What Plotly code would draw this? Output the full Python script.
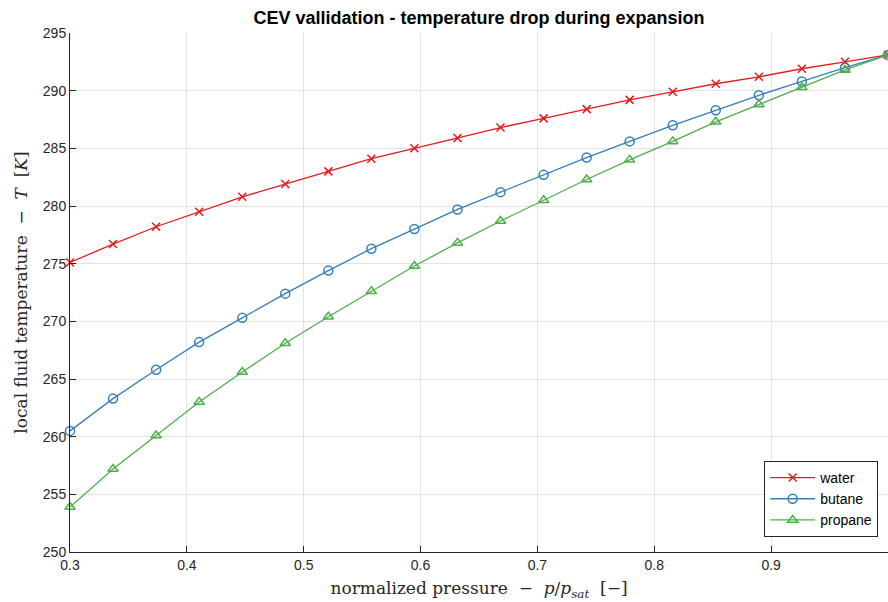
import plotly.graph_objects as go

x_vals = [0.3, 0.3368, 0.3737, 0.4105, 0.4474, 0.4842, 0.5211, 0.5579, 0.5947, 0.6316,
          0.6684, 0.7053, 0.7421, 0.7789, 0.8158, 0.8526, 0.8895, 0.9263, 0.9632, 1.0]
water = [275.1, 276.7, 278.2, 279.5, 280.8, 281.9, 283.0, 284.1, 285.0, 285.9,
         286.8, 287.6, 288.4, 289.2, 289.9, 290.6, 291.2, 291.9, 292.5, 293.1]
butane = [260.5, 263.3, 265.8, 268.2, 270.3, 272.4, 274.4, 276.3, 278.0, 279.7,
          281.2, 282.7, 284.2, 285.6, 287.0, 288.3, 289.6, 290.8, 292.0, 293.1]
propane = [253.9, 257.2, 260.1, 263.0, 265.6, 268.1, 270.4, 272.6, 274.8, 276.8,
           278.7, 280.5, 282.3, 284.0, 285.6, 287.3, 288.8, 290.3, 291.8, 293.1]
x_ticks = [0.3, 0.4, 0.5, 0.6, 0.7, 0.8, 0.9]
x_ticklabels = ["0.3", "0.4", "0.5", "0.6", "0.7", "0.8", "0.9"]
y_ticks = [250, 255, 260, 265, 270, 275, 280, 285, 290, 295]

fig = go.Figure()
series = [("water", water, "#e41a1c", "x-thin-open"),
          ("butane", butane, "#377eb8", "circle-open"),
          ("propane", propane, "#4daf4a", "triangle-up-open")]
for name, ys, col, sym in series:
    fig.add_trace(go.Scatter(
        x=x_vals, y=ys, name=name, mode="lines+markers",
        line=dict(color=col, width=1.3),
        marker=dict(symbol=sym, size=9 if sym != "x-thin-open" else 8,
                    color=col, line=dict(color=col, width=1.5)),
        cliponaxis=False,
    ))

fig.update_layout(
    width=888, height=602,
    margin=dict(l=70, r=0, t=33, b=50),
    paper_bgcolor="white", plot_bgcolor="white",
    font=dict(family="Liberation Sans, Arial, sans-serif", size=14, color="#262626"),
    title=dict(text="<b>CEV vallidation - temperature drop during expansion</b>",
               x=0.5, xref="paper", y=0.97, yanchor="middle",
               font=dict(size=18, color="black")),
    showlegend=True,
    legend=dict(x=0.988, y=0.029, xanchor="right", yanchor="bottom",
                bgcolor="white", bordercolor="#262626", borderwidth=1,
                font=dict(size=14, color="black"), tracegroupgap=0,
                itemwidth=45),
)
fig.update_xaxes(
    range=[0.3, 1.0], tickvals=x_ticks, ticktext=x_ticklabels,
    showgrid=True, gridcolor="#e3e3e3", gridwidth=1,
    showline=True, linecolor="#262626", linewidth=1,
    ticks="inside", ticklen=6, tickcolor="#262626", zeroline=False,
    title=dict(text="normalized pressure  −  <i>p</i>/<i>p<sub>sat</sub></i>  [−]",
               font=dict(family="DejaVu Serif, Liberation Serif, serif", size=17, color="#262626"),
               standoff=10),
)
fig.update_yaxes(
    range=[250, 295], tickvals=y_ticks,
    showgrid=True, gridcolor="#e3e3e3", gridwidth=1,
    showline=True, linecolor="#262626", linewidth=1,
    ticks="inside", ticklen=6, tickcolor="#262626", zeroline=False,
    title=dict(text="local fluid temperature  −  <i>T</i>  [<i>K</i>]",
               font=dict(family="DejaVu Serif, Liberation Serif, serif", size=17, color="#262626"),
               standoff=10),
)
fig.write_html("out.html")
